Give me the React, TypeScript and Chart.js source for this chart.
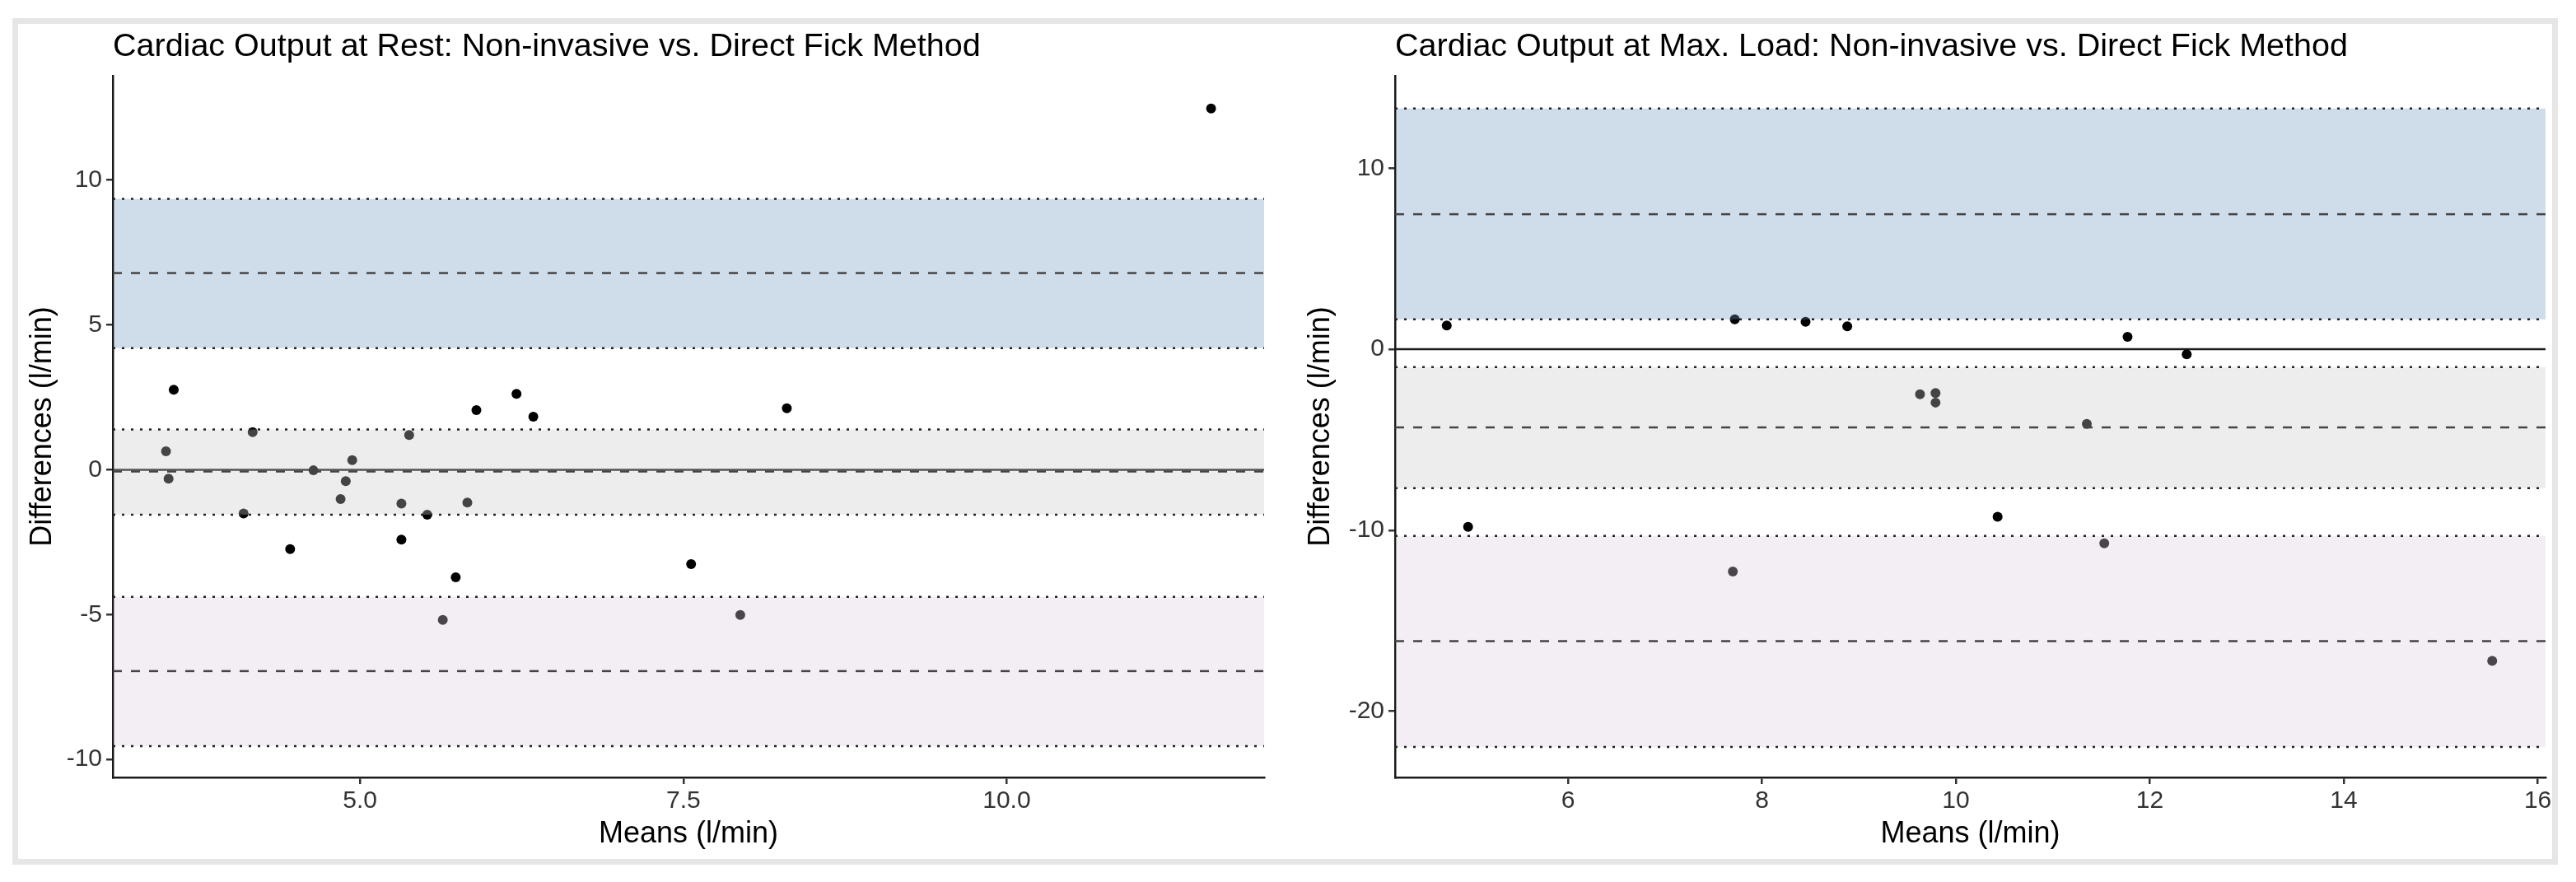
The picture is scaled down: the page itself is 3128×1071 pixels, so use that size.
import { useEffect, useRef } from "react"
import { Chart, registerables } from "chart.js"

Chart.register(...registerables)

// Rest: means and differences of the two methods (l/min)
const restMeans = [11.58, 3.56, 3.5, 3.52, 4.1, 4.17, 4.46, 4.64, 4.85, 4.89, 4.94, 5.32, 5.32, 5.38, 5.52, 5.64, 5.74, 5.83, 5.9, 6.21, 6.34, 7.56, 7.94, 8.3]
const restDiffs = [12.47, 2.76, 0.64, -0.31, -1.51, 1.3, -2.74, -0.02, -1.01, -0.39, 0.33, -1.17, -2.41, 1.2, -1.55, -5.18, -3.71, -1.13, 2.06, 2.62, 1.83, -3.26, -5.01, 2.12]
// [lower CI, estimate, upper CI]
const restUpperLoA = [4.2, 6.79, 9.35]
const restBias = [-1.55, -0.06, 1.39]
const restLowerLoA = [-9.54, -6.95, -4.39]
const restXTicks = [5, 7.5, 10]
const restYTicks = [-10, -5, 0, 5, 10]

// Max. load
const maxMeans = [4.75, 4.97, 7.72, 7.7, 8.45, 8.88, 9.63, 9.79, 9.79, 10.43, 11.35, 11.53, 11.77, 12.38, 15.53]
const maxDiffs = [1.31, -9.82, 1.65, -12.28, 1.52, 1.27, -2.49, -2.42, -2.95, -9.26, -4.13, -10.72, 0.68, -0.28, -17.22]
const maxUpperLoA = [1.65, 7.46, 13.3]
const maxBias = [-7.68, -4.32, -0.99]
const maxLowerLoA = [-21.98, -16.13, -10.32]
const maxXTicks = [6, 8, 10, 12, 14, 16]
const maxYTicks = [-20, -10, 0, 10]

const FONT = "'Liberation Sans', Arial, Helvetica, sans-serif"
const BLUE = "rgba(113, 151, 193, 0.337)"
const GREY = "rgba(202, 202, 202, 0.337)"
const PINK = "rgba(219, 202, 222, 0.337)"

function makeLimitsPlugin(upper: number[], bias: number[], lower: number[]) {
  const groups: [number[], string][] = [
    [upper, BLUE],
    [bias, GREY],
    [lower, PINK],
  ]
  return {
    id: "limits",
    beforeDatasetsDraw(chart: Chart) {
      const { ctx, chartArea: a, scales } = chart
      const y0 = scales.y.getPixelForValue(0)
      ctx.save()
      ctx.strokeStyle = "#1a1a1a"
      ctx.lineWidth = 2.5
      ctx.beginPath()
      ctx.moveTo(a.left, y0)
      ctx.lineTo(a.right, y0)
      ctx.stroke()
      ctx.restore()
    },
    afterDatasetsDraw(chart: Chart) {
      const { ctx, chartArea: a, scales } = chart
      const y = scales.y
      ctx.save()
      // shaded confidence bands go over the points, like the original
      for (const [vals, color] of groups) {
        const top = y.getPixelForValue(vals[2])
        const bottom = y.getPixelForValue(vals[0])
        ctx.fillStyle = color
        ctx.fillRect(a.left + 1, top, a.width - 1, bottom - top)
      }
      ctx.lineWidth = 2.5
      for (const [vals] of groups) {
        vals.forEach((v, i) => {
          const py = y.getPixelForValue(v)
          ctx.setLineDash(i === 1 ? [11, 11] : [3, 8])
          ctx.strokeStyle = i === 1 ? "#444" : "#222"
          ctx.beginPath()
          ctx.moveTo(a.left, py)
          ctx.lineTo(a.right, py)
          ctx.stroke()
        })
      }
      ctx.restore()
    },
  }
}

type PanelProps = {
  title: string
  means: number[]
  diffs: number[]
  upper: number[]
  bias: number[]
  lower: number[]
  xMin: number
  xMax: number
  yMin: number
  yMax: number
  xTicks: number[]
  yTicks: number[]
  decimals: number
  left: number
  width: number
  padLeft: number
  padRight: number
  yAxisWidth: number
}

function BlandAltmanPanel(p: PanelProps) {
  const canvasRef = useRef<HTMLCanvasElement>(null)

  useEffect(() => {
    if (!canvasRef.current) return
    const chart = new Chart(canvasRef.current, {
      type: "scatter",
      data: {
        datasets: [
          {
            data: p.means.map((m, i) => ({ x: m, y: p.diffs[i] })),
            backgroundColor: "#000",
            pointRadius: 6,
            pointBorderWidth: 0,
          },
        ],
      },
      options: {
        responsive: false,
        animation: false,
        devicePixelRatio: 1,
        layout: { padding: { left: p.padLeft, right: p.padRight, top: 33.5, bottom: 28 } },
        plugins: {
          legend: { display: false },
          tooltip: { enabled: false },
          title: {
            display: true,
            text: p.title,
            align: "start",
            fullSize: false,
            color: "#000",
            font: { family: FONT, size: 39.5, weight: "normal", lineHeight: 1.2 },
            padding: { top: 0, bottom: 11.1 },
          },
        },
        scales: {
          x: {
            type: "linear",
            min: p.xMin,
            max: p.xMax,
            afterBuildTicks: (scale) => {
              scale.ticks = p.xTicks.map((value) => ({ value }))
            },
            afterFit: (scale) => {
              scale.height = 99
            },
            grid: { drawOnChartArea: false, drawTicks: true, tickLength: 8, color: "#333", lineWidth: 2.5 },
            border: { display: true, color: "#1a1a1a", width: 2.5 },
            ticks: {
              padding: 3,
              color: "#333",
              font: { family: FONT, size: 30 },
              maxRotation: 0,
              callback: (v) => Number(v).toFixed(p.decimals),
            },
            title: {
              display: true,
              text: "Means (l/min)",
              color: "#000",
              font: { family: FONT, size: 36, lineHeight: 1.2 },
              padding: { top: 0, bottom: 8.4 },
            },
          },
          y: {
            type: "linear",
            min: p.yMin,
            max: p.yMax,
            afterBuildTicks: (scale) => {
              scale.ticks = p.yTicks.map((value) => ({ value }))
            },
            afterFit: (scale) => {
              scale.width = p.yAxisWidth
            },
            grid: { drawOnChartArea: false, drawTicks: true, tickLength: 8, color: "#333", lineWidth: 2.5 },
            border: { display: true, color: "#1a1a1a", width: 2.5 },
            ticks: {
              padding: 5,
              color: "#333",
              font: { family: FONT, size: 30 },
              callback: (v) => String(v),
            },
            title: {
              display: true,
              text: "Differences (l/min)",
              color: "#000",
              font: { family: FONT, size: 36, lineHeight: 1.2 },
              padding: { top: 8.4, bottom: 0 },
            },
          },
        },
      },
      plugins: [makeLimitsPlugin(p.upper, p.bias, p.lower)],
    })

    return () => chart.destroy()
  }, [])

  return (
    <canvas
      ref={canvasRef}
      width={p.width}
      height={1071}
      style={{ position: "absolute", left: p.left, top: 0, width: p.width, height: 1071 }}
    />
  )
}

export default function App() {
  return (
    <div style={{ position: "absolute", left: 0, top: 0, width: 3128, height: 1071, background: "#fff", overflow: "hidden" }}>
      <div
        style={{
          position: "absolute",
          left: 15,
          top: 22,
          width: 3091,
          height: 1028,
          boxSizing: "border-box",
          border: "7px solid #e6e6e6",
        }}
      />
      <BlandAltmanPanel
        title="Cardiac Output at Rest: Non-invasive vs. Direct Fick Method"
        means={restMeans}
        diffs={restDiffs}
        upper={restUpperLoA}
        bias={restBias}
        lower={restLowerLoA}
        xMin={3.089}
        xMax={11.99}
        yMin={-10.62}
        yMax={13.6}
        xTicks={restXTicks}
        yTicks={restYTicks}
        decimals={1}
        left={0}
        width={1564}
        padLeft={22}
        padRight={29}
        yAxisWidth={115}
      />
      <BlandAltmanPanel
        title="Cardiac Output at Max. Load: Non-invasive vs. Direct Fick Method"
        means={maxMeans}
        diffs={maxDiffs}
        upper={maxUpperLoA}
        bias={maxBias}
        lower={maxLowerLoA}
        xMin={4.217}
        xMax={16.08}
        yMin={-23.66}
        yMax={15.11}
        xTicks={maxXTicks}
        yTicks={maxYTicks}
        decimals={0}
        left={1564}
        width={1564}
        padLeft={10}
        padRight={37}
        yAxisWidth={120}
      />
    </div>
  )
}
